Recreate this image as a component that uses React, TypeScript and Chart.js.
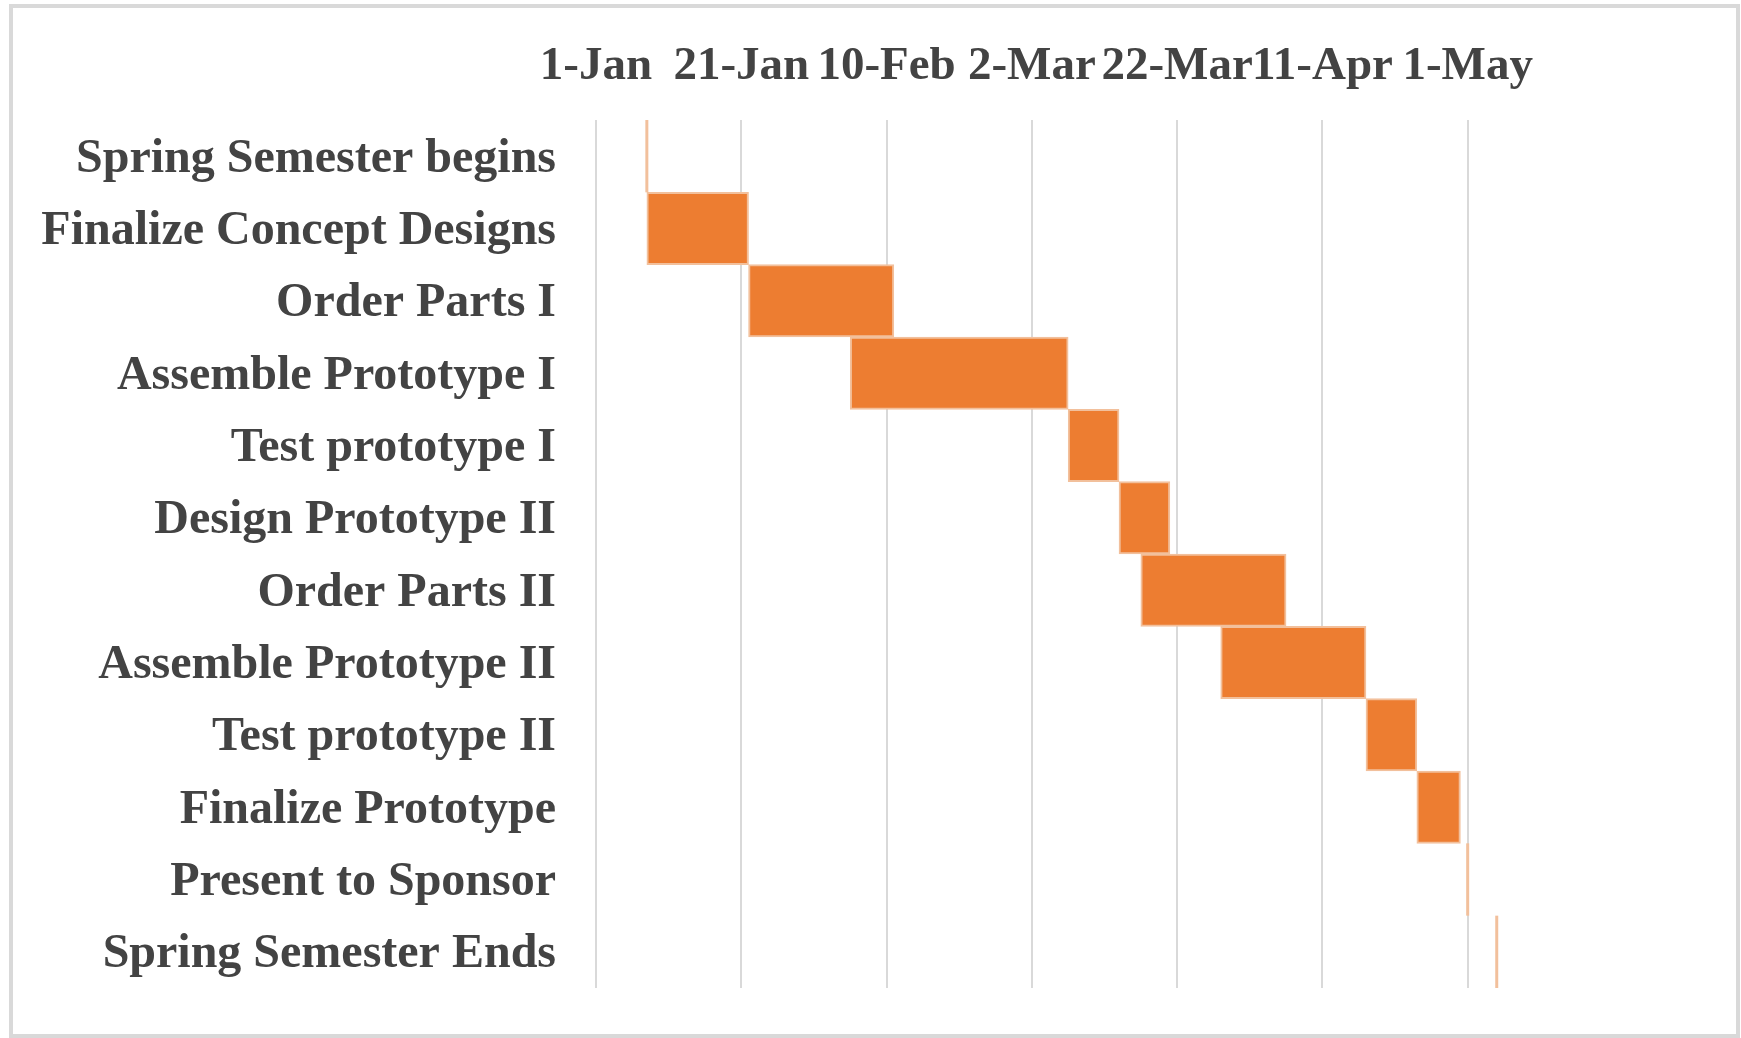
import React, { useEffect, useRef } from "react";
import { Chart, registerables } from "chart.js";

Chart.register(...registerables);

// Tasks (top to bottom)
const tasks: string[] = [
  "Spring Semester begins",
  "Finalize Concept Designs",
  "Order Parts I",
  "Assemble Prototype I",
  "Test prototype I",
  "Design Prototype II",
  "Order Parts II",
  "Assemble Prototype II",
  "Test prototype II",
  "Finalize Prototype",
  "Present to Sponsor",
  "Spring Semester Ends",
];

// Start day (days after 1-Jan) and duration in days
const startDays: number[] = [7, 7, 21, 35, 65, 72, 75, 86, 106, 113, 120, 124];
const durations: number[] = [0, 14, 20, 30, 7, 7, 20, 20, 7, 6, 0, 0];

// Axis tick labels (every 20 days from 1-Jan)
const tickLabels: string[] = ["1-Jan", "21-Jan", "10-Feb", "2-Mar", "22-Mar", "11-Apr", "1-May"];
const tickStep = 20;
const axisMax = 125;

const FONT = "'Liberation Serif', 'Times New Roman', serif";
const TEXT = "#434343";
const BAR = "#ED7D31";
const BAR_EDGE = "#F2C09C";

const zeroBarPlugin = {
  id: "zeroBars",
  afterDatasetsDraw(chart: any) {
    const ctx = chart.ctx;
    chart.data.datasets.forEach((ds: any, di: number) => {
      const meta = chart.getDatasetMeta(di);
      meta.data.forEach((el: any, i: number) => {
        const v = ds.data[i];
        if (Array.isArray(v) && v[1] - v[0] === 0) {
          const x = el.x;
          ctx.save();
          ctx.strokeStyle = BAR_EDGE;
          ctx.lineWidth = 3;
          ctx.beginPath();
          ctx.moveTo(x, el.y - el.height / 2);
          ctx.lineTo(x, el.y + el.height / 2);
          ctx.stroke();
          ctx.restore();
        }
      });
    });
  },
};

export default function App() {
  const ref = useRef<HTMLCanvasElement | null>(null);

  useEffect(() => {
    if (!ref.current) return;
    const chart = new Chart(ref.current, {
      type: "bar",
      data: {
        labels: tasks,
        datasets: [
          {
            label: "Duration",
            data: startDays.map((s, i) => [s, s + durations[i]]) as any,
            backgroundColor: BAR,
            borderColor: BAR_EDGE,
            borderWidth: 2,
            borderSkipped: false,
            barPercentage: 1,
            categoryPercentage: 1,
          },
        ],
      },
      options: {
        indexAxis: "y",
        responsive: false,
        animation: false,
        devicePixelRatio: 1,
        layout: { padding: { left: 0, top: 0, right: 1741 - 1504, bottom: 50 } },
        plugins: {
          legend: { display: false },
          tooltip: { enabled: false },
          title: { display: false },
        },
        scales: {
          x: {
            type: "linear",
            position: "top",
            min: 0,
            max: axisMax,
            border: { display: false },
            grid: { color: "#D9D9D9", lineWidth: 2, drawTicks: false },
            afterFit: (scale: any) => {
              scale.height = 120;
              scale.paddingLeft = 0;
              scale.paddingRight = 0;
            },
            ticks: {
              stepSize: tickStep,
              includeBounds: false,
              autoSkip: false,
              maxRotation: 0,
              minRotation: 0,
              padding: 25,
              color: TEXT,
              font: { family: FONT, size: 47, weight: "bold" },
              callback: (value: any) => {
                const idx = Math.round(Number(value) / tickStep);
                return Number(value) % tickStep === 0 ? tickLabels[idx] ?? "" : "";
              },
            },
          },
          y: {
            type: "category",
            border: { display: false },
            grid: { display: false },
            afterFit: (scale: any) => {
              scale.width = 596;
              scale.paddingTop = 0;
              scale.paddingBottom = 0;
            },
            ticks: {
              autoSkip: false,
              padding: 32,
              labelOffset: 3,
              color: TEXT,
              font: { family: FONT, size: 48, weight: "bold" },
            },
          },
        },
      },
      plugins: [zeroBarPlugin],
    } as any);
    return () => chart.destroy();
  }, []);

  return (
    <div
      style={{
        position: "absolute",
        left: 0,
        top: 0,
        width: 1741,
        height: 1038,
        background: "#ffffff",
        overflow: "hidden",
      }}
    >
      <div
        style={{
          position: "absolute",
          left: 9,
          top: 4,
          width: 1731,
          height: 1034,
          boxSizing: "border-box",
          border: "4px solid #D9D9D9",
        }}
      />
      <canvas
        ref={ref}
        width={1741}
        height={1038}
        style={{ position: "absolute", left: 0, top: 0, width: 1741, height: 1038 }}
      />
    </div>
  );
}
